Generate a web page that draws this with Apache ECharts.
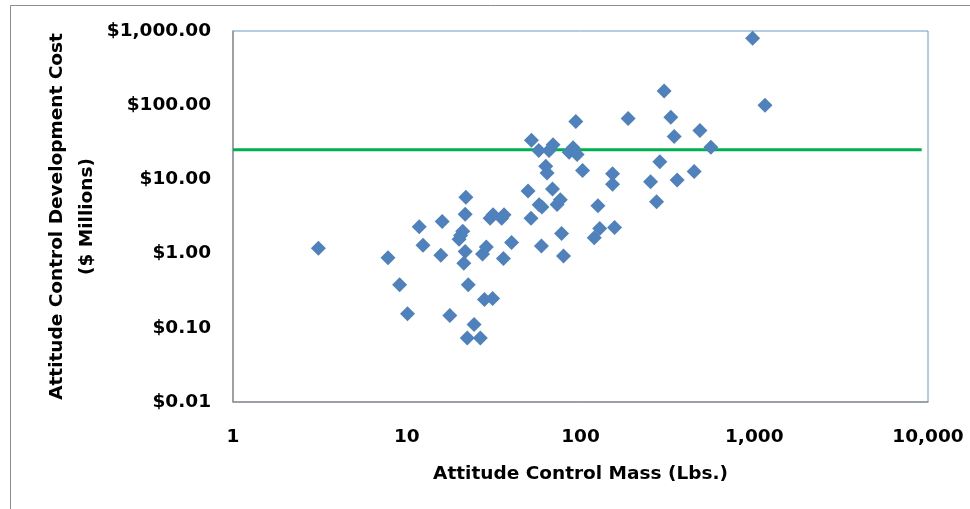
<!DOCTYPE html>
<html>
<head>
<meta charset="utf-8">
<script src="https://cdn.jsdelivr.net/npm/echarts@6/dist/echarts.min.js"></script>
<style>
html,body{margin:0;padding:0;background:#fff;}
#main{width:970px;height:509px;}
</style>
</head>
<body>
<div id="main"></div>
<script>
// Attitude control mass (lbs.) for each program
const massLbs = [
  3.1, 7.8, 9.1, 10.1, 11.8, 12.4, 16.0, 15.7, 17.7, 21.0,
  20.4, 20.0, 21.9, 21.7, 21.7, 21.3, 22.6, 22.3, 24.4, 26.5,
  27.3, 28.7, 28.0, 31.2, 30.2, 31.4, 35.2, 36.3, 36.0, 40.1,
  49.9, 51.9, 52.2, 57.5, 57.8, 60.0, 59.6, 63.1, 64.2, 69.0,
  69.5, 65.9, 73.3, 76.5, 77.8, 79.8, 86.0, 90.7, 95.6, 94.0,
  102.8, 126, 129, 120, 157, 153, 153, 188, 253, 274,
  286, 303, 331, 346, 360, 451, 487, 563, 979, 1153
];
// Attitude control development cost ($ millions)
const costMillions = [
  1.18, 0.88, 0.38, 0.155, 2.3, 1.3, 2.7, 0.95, 0.147, 2.0,
  1.76, 1.56, 5.75, 3.4, 1.07, 0.74, 0.38, 0.073, 0.111, 0.073,
  0.99, 1.23, 0.24, 0.248, 3.0, 3.35, 3.0, 3.33, 0.86, 1.41,
  7.0, 3.0, 33.7, 24.6, 4.55, 4.24, 1.27, 15.0, 12.2, 7.4,
  29.4, 24.6, 4.6, 5.3, 1.86, 0.93, 23.2, 26.6, 21.6, 60.2,
  13.2, 4.4, 2.18, 1.63, 2.25, 11.9, 8.6, 66, 9.3, 5.0,
  17.3, 155, 69, 37.8, 9.8, 12.8, 45.5, 27.1, 797, 100
];
// Horizontal reference line
const refLineX = [1, 9200];
const refLineY = [25, 25];
// Axis ranges
const xTicks = [1, 10, 100, 1000, 10000];
const yTicks = [0.01, 0.1, 1, 10, 100, 1000];

const FONT = 'DejaVu Sans';
const FS = 18.5;

const chart = echarts.init(document.getElementById('main'), null, {renderer: 'canvas'});
chart.setOption({
  animation: false,
  backgroundColor: '#ffffff',
  graphic: [{
    type: 'rect',
    shape: {x: 10.5, y: 5.5, width: 1000, height: 600},
    style: {fill: 'none', stroke: '#8c8c8c', lineWidth: 1},
    silent: true
  }],
  grid: {
    left: 233, top: 31, right: 42, bottom: 107,
    show: true, borderColor: '#7096CB', borderWidth: 1, backgroundColor: 'transparent'
  },
  xAxis: {
    type: 'log', logBase: 10,
    min: xTicks[0], max: xTicks[xTicks.length - 1],
    name: 'Attitude Control Mass (Lbs.)',
    nameLocation: 'middle', nameGap: 63,
    nameMoveOverlap: false,
    nameTextStyle: {fontFamily: FONT, fontWeight: 'bold', fontSize: FS, color: '#000'},
    axisLine: {show: true, lineStyle: {color: '#939393', width: 1.5}},
    axisTick: {show: false},
    splitLine: {show: false},
    axisLabel: {
      margin: 26, fontFamily: FONT, fontWeight: 'bold', fontSize: FS, color: '#000',
      formatter: v => Math.round(v).toLocaleString('en-US')
    }
  },
  yAxis: {
    type: 'log', logBase: 10,
    min: yTicks[0], max: yTicks[yTicks.length - 1],
    name: 'Attitude Control Development Cost\n($ Millions)',
    nameLocation: 'middle', nameRotate: 90, nameGap: 131,
    nameMoveOverlap: false,
    nameTextStyle: {fontFamily: FONT, fontWeight: 'bold', fontSize: FS, color: '#000', lineHeight: 30, align: 'center'},
    axisLine: {show: true, lineStyle: {color: '#939393', width: 1.5}},
    axisTick: {show: false},
    splitLine: {show: false},
    axisLabel: {
      margin: 22, fontFamily: FONT, fontWeight: 'bold', fontSize: FS, color: '#000',
      formatter: v => '$' + Number(v).toLocaleString('en-US', {minimumFractionDigits: 2, maximumFractionDigits: 2})
    }
  },
  series: [
    {
      type: 'line',
      data: refLineX.map((x, i) => [x, refLineY[i]]),
      symbol: 'none',
      lineStyle: {color: '#00B050', width: 3},
      z: 2
    },
    {
      type: 'scatter',
      data: massLbs.map((m, i) => [m, costMillions[i]]),
      symbol: 'diamond',
      symbolSize: 15,
      itemStyle: {color: '#4F81BD', opacity: 1},
      z: 3
    }
  ]
});
</script>
</body>
</html>
